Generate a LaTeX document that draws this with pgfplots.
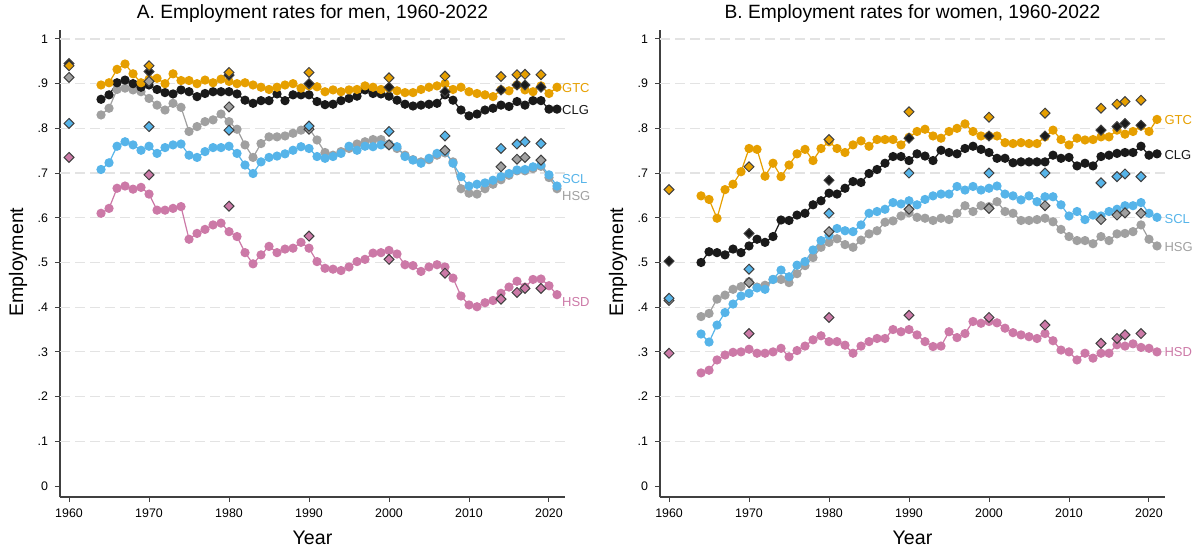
\documentclass[border=0pt]{standalone}
\usepackage{fontspec}
\setmainfont{Liberation Sans}
\usepackage{pgfplots}
\usepackage{pgfplotstable}
\pgfplotsset{compat=1.18}

\definecolor{cGTC}{HTML}{E69F00}
\definecolor{cCLG}{HTML}{1A1A1A}
\definecolor{cSCL}{HTML}{56B4E9}
\definecolor{cHSG}{HTML}{A0A0A0}
\definecolor{cHSD}{HTML}{CC79A7}

\pgfplotstableread{
year gtc clg scl hsg hsd
1964 .897 .865 .708 .830 .610
1965 .902 .875 .723 .845 .621
1966 .932 .902 .760 .887 .666
1967 .944 .908 .770 .890 .671
1968 .922 .900 .763 .886 .664
1969 .902 .892 .751 .882 .668
1970 .910 .897 .760 .867 .653
1971 .912 .887 .744 .852 .617
1972 .900 .880 .757 .841 .617
1973 .922 .877 .763 .856 .621
1974 .907 .886 .765 .847 .625
1975 .907 .882 .740 .793 .552
1976 .900 .871 .735 .804 .565
1977 .908 .878 .748 .815 .574
1978 .902 .882 .757 .819 .584
1979 .910 .882 .757 .832 .588
1980 .905 .882 .760 .815 .569
1981 .900 .877 .744 .798 .558
1982 .902 .863 .718 .763 .522
1983 .897 .856 .699 .735 .497
1984 .892 .862 .725 .766 .517
1985 .887 .862 .735 .781 .536
1986 .892 .877 .738 .781 .522
1987 .897 .862 .743 .783 .530
1988 .900 .875 .751 .789 .532
1989 .890 .875 .759 .796 .545
1990 .895 .875 .755 .800 .532
1991 .893 .860 .737 .774 .502
1992 .882 .853 .733 .746 .487
1993 .886 .854 .737 .740 .485
1994 .882 .862 .744 .748 .482
1995 .886 .867 .760 .755 .490
1996 .887 .872 .751 .765 .502
1997 .895 .886 .760 .770 .507
1998 .892 .878 .759 .775 .521
1999 .887 .877 .763 .775 .522
2000 .890 .872 .763 .765 .527
2001 .884 .863 .759 .755 .519
2002 .880 .854 .737 .740 .495
2003 .880 .850 .729 .730 .493
2004 .887 .852 .722 .725 .480
2005 .892 .854 .733 .730 .490
2006 .895 .856 .744 .740 .495
2007 .900 .875 .748 .745 .490
2008 .887 .863 .722 .725 .465
2009 .892 .841 .692 .665 .425
2010 .882 .828 .671 .655 .405
2011 .878 .832 .675 .653 .401
2012 .875 .841 .678 .665 .410
2013 .871 .845 .684 .675 .415
2014 .886 .852 .692 .685 .431
2015 .884 .849 .699 .695 .445
2016 .897 .860 .707 .705 .458
2017 .886 .852 .708 .705 .445
2018 .882 .862 .714 .710 .462
2019 .895 .862 .718 .715 .463
2020 .878 .843 .696 .690 .448
2021 .892 .843 .671 .665 .428
}\men

\pgfplotstableread{
year gtc clg scl hsg hsd
1960 .940 .945 .811 .914 .735
1970 .940 .927 .804 .905 .696
1980 .925 .919 .796 .848 .626
1990 .925 .900 .805 .798 .559
2000 .913 .892 .793 .763 .507
2007 .917 .882 .783 .751 .476
2014 .916 .886 .755 .714 .418
2016 .920 .897 .765 .731 .433
2017 .921 .897 .770 .735 .442
2019 .920 .892 .766 .729 .442
}\mencensus

\pgfplotstableread{
year gtc clg scl hsg hsd
1964 .649 .500 .340 .379 .253
1965 .641 .524 .322 .386 .259
1966 .599 .522 .360 .418 .282
1967 .663 .517 .388 .427 .293
1968 .675 .530 .407 .440 .299
1969 .703 .522 .425 .446 .300
1970 .755 .537 .431 .457 .306
1971 .753 .552 .443 .445 .297
1972 .693 .545 .440 .449 .297
1973 .722 .558 .462 .462 .300
1974 .692 .595 .483 .462 .308
1975 .718 .594 .468 .455 .289
1976 .743 .606 .494 .475 .303
1977 .753 .610 .502 .493 .313
1978 .728 .629 .528 .511 .327
1979 .755 .638 .549 .534 .336
1980 .770 .655 .561 .545 .323
1981 .755 .653 .576 .553 .323
1982 .746 .666 .571 .540 .315
1983 .763 .681 .569 .534 .297
1984 .772 .679 .584 .550 .313
1985 .760 .699 .610 .564 .323
1986 .775 .708 .614 .571 .330
1987 .775 .722 .619 .590 .330
1988 .775 .737 .634 .593 .350
1989 .763 .737 .631 .604 .345
1990 .780 .728 .638 .611 .350
1991 .793 .743 .629 .601 .338
1992 .798 .738 .641 .599 .323
1993 .783 .728 .649 .594 .312
1994 .778 .751 .653 .599 .313
1995 .793 .746 .653 .596 .345
1996 .800 .743 .670 .610 .332
1997 .810 .755 .662 .627 .341
1998 .793 .760 .670 .614 .368
1999 .783 .753 .662 .627 .364
2000 .783 .746 .666 .625 .368
2001 .783 .733 .671 .636 .365
2002 .768 .733 .653 .614 .353
2003 .766 .723 .649 .610 .343
2004 .768 .725 .640 .594 .338
2005 .766 .725 .649 .594 .334
2006 .766 .725 .636 .596 .330
2007 .781 .725 .647 .599 .341
2008 .796 .740 .647 .591 .325
2009 .775 .733 .629 .574 .304
2010 .763 .735 .604 .558 .300
2011 .778 .716 .614 .549 .282
2012 .774 .722 .596 .549 .297
2013 .775 .716 .606 .542 .286
2014 .781 .737 .604 .558 .297
2015 .781 .740 .614 .549 .297
2016 .796 .744 .619 .564 .316
2017 .787 .746 .627 .565 .313
2018 .793 .746 .627 .569 .318
2019 .805 .760 .634 .584 .310
2020 .793 .740 .610 .552 .308
2021 .820 .743 .601 .537 .300
}\women

\pgfplotstableread{
year gtc clg scl hsg hsd
1960 .663 .503 .420 .415 .297
1970 .714 .565 .485 .455 .341
1980 .775 .684 .610 .569 .377
1990 .837 .778 .700 .619 .382
2000 .825 .783 .700 .621 .377
2007 .834 .783 .700 .627 .360
2014 .845 .796 .678 .596 .319
2016 .854 .804 .692 .606 .330
2017 .860 .811 .698 .611 .338
2019 .863 .807 .692 .610 .341
}\womencensus

\tikzset{
  endlab/.style={anchor=west, inner sep=0pt, text=#1,
    font=\fontsize{6.5}{7}\selectfont},
}

\pgfplotsset{
  empl/.style={
    scale only axis, width=252.5pt, height=233.5pt,
    xmin=1958.87, xmax=2022.0, ymin=-0.0246, ymax=1.02,
    axis x line*=bottom, axis y line*=left,
    axis line style={-, draw=black!75, line width=0.6pt},
    xtick={1960,1970,1980,1990,2000,2010,2020},
    ytick={0,0.1,0.2,0.3,0.4,0.5,0.6,0.7,0.8,0.9,1},
    yticklabels={0,.1,.2,.3,.4,.5,.6,.7,.8,.9,1},
    extra y ticks={0.1,0.2,0.3,0.4,0.5,0.6,0.7,0.8,0.9,1},
    extra y tick labels={},
    extra y tick style={grid=major, major tick length=0pt},
    grid style={gray!22, line width=0.6pt, dash pattern=on 5pt off 2.5pt},
    tick align=outside, major tick length=2.5pt,
    tick style={black!75, line width=0.5pt},
    xticklabel style={/pgf/number format/1000 sep={}},
    /pgf/number format/assume math mode=true,
    ticklabel style={font=\fontsize{6.2}{7}\selectfont},
    label style={font=\fontsize{9.8}{11}\selectfont},
    xlabel={Year}, ylabel={Employment},
    xlabel style={at={(axis description cs:0.5,-0.088)}, anchor=center},
    ylabel style={at={(axis description cs:-0.083,0.503)}, anchor=center},
    title style={at={(axis description cs:0.5,1.036)}, anchor=center,
      yshift=-6pt, font=\fontsize{9.6}{11}\selectfont},
    clip=false,
  },
  ser/.style={color=#1, line width=0.6pt, mark=*, mark size=2pt,
    mark options={fill=#1, draw=#1, solid}},
  cen/.style={only marks, mark=square*, mark size=1.75pt,
    mark options={rotate=45, fill=#1, draw=black!75, line width=0.5pt}},
}

\begin{document}
\begin{tikzpicture}
\path[use as bounding box] (-30pt,-28.5pt) rectangle (570.5pt,248.5pt);

\begin{axis}[empl, at={(0pt,0pt)}, anchor=south west,
  title={A. Employment rates for men, 1960-2022}]
\addplot[ser=cHSD] table[x=year, y=hsd] {\men};
\addplot[ser=cHSG] table[x=year, y=hsg] {\men};
\addplot[ser=cSCL] table[x=year, y=scl] {\men};
\addplot[ser=cCLG] table[x=year, y=clg] {\men};
\addplot[ser=cGTC] table[x=year, y=gtc] {\men};
\addplot[cen=cHSD] table[x=year, y=hsd] {\mencensus};
\addplot[cen=cHSG] table[x=year, y=hsg] {\mencensus};
\addplot[cen=cSCL] table[x=year, y=scl] {\mencensus};
\addplot[cen=cCLG] table[x=year, y=clg] {\mencensus};
\addplot[cen=cGTC] table[x=year, y=gtc] {\mencensus};
\node[endlab=cGTC] at (axis cs:2021.6,0.890) {GTC};
\node[endlab=cCLG] at (axis cs:2021.6,0.841) {CLG};
\node[endlab=cSCL] at (axis cs:2021.6,0.687) {SCL};
\node[endlab=cHSG] at (axis cs:2021.6,0.649) {HSG};
\node[endlab=cHSD] at (axis cs:2021.6,0.412) {HSD};
\end{axis}

\begin{axis}[empl, at={(300pt,0pt)}, anchor=south west,
  title={B. Employment rates for women, 1960-2022}]
\addplot[ser=cHSD] table[x=year, y=hsd] {\women};
\addplot[ser=cHSG] table[x=year, y=hsg] {\women};
\addplot[ser=cSCL] table[x=year, y=scl] {\women};
\addplot[ser=cCLG] table[x=year, y=clg] {\women};
\addplot[ser=cGTC] table[x=year, y=gtc] {\women};
\addplot[cen=cHSD] table[x=year, y=hsd] {\womencensus};
\addplot[cen=cHSG] table[x=year, y=hsg] {\womencensus};
\addplot[cen=cSCL] table[x=year, y=scl] {\womencensus};
\addplot[cen=cCLG] table[x=year, y=clg] {\womencensus};
\addplot[cen=cGTC] table[x=year, y=gtc] {\womencensus};
\node[endlab=cGTC] at (axis cs:2021.9,0.819) {GTC};
\node[endlab=cCLG] at (axis cs:2021.9,0.740) {CLG};
\node[endlab=cSCL] at (axis cs:2021.9,0.597) {SCL};
\node[endlab=cHSG] at (axis cs:2021.9,0.535) {HSG};
\node[endlab=cHSD] at (axis cs:2021.9,0.300) {HSD};
\end{axis}
\end{tikzpicture}
\end{document}
